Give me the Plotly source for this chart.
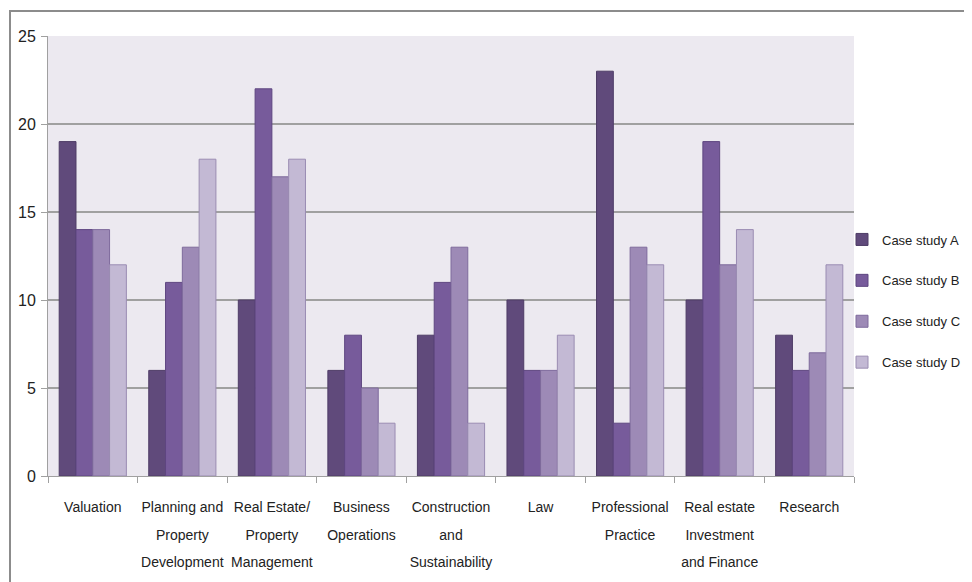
import plotly.graph_objects as go

category_lines = [["Valuation"], ["Planning and", "Property", "Development"],
                  ["Real Estate/", "Property", "Management"], ["Business", "Operations"],
                  ["Construction", "and", "Sustainability"], ["Law"],
                  ["Professional", "Practice"], ["Real estate", "Investment", "and Finance"],
                  ["Research"]]
series_names = ["Case study A", "Case study B", "Case study C", "Case study D"]
case_a = [19, 6, 10, 6, 8, 10, 23, 10, 8]
case_b = [14, 11, 22, 8, 11, 6, 3, 19, 6]
case_c = [14, 13, 17, 5, 13, 6, 13, 12, 7]
case_d = [12, 18, 18, 3, 3, 8, 12, 14, 12]
y_ticks = [0, 5, 10, 15, 20, 25]

colors = ["#604A7B", "#775B9B", "#9D8AB6", "#C3B9D4"]
edges = ["#4E3C66", "#5E4680", "#7E6A9C", "#9A8CB2"]

FONT = "Liberation Sans, Arial, sans-serif"

categories = [" ".join(lines) for lines in category_lines]
tick_text = ["<br>".join('<span style="font-size:14px">%s</span>' % s for s in lines)
             for lines in category_lines]

fig = go.Figure()
for name, vals, c, e in zip(series_names, [case_a, case_b, case_c, case_d], colors, edges):
    fig.add_trace(go.Bar(x=categories, y=vals, name=name, legendgroup=name,
                         marker=dict(color=c, line=dict(color=e, width=1))))

# page body has an 8px margin, so the figure is 8px smaller and offset
OFF = 8
W, H = 972 - OFF, 582 - OFF
L, T = 48 - OFF, 36 - OFF
R = W - (854 - OFF)
B = H - (476 - OFF)
pw, ph = W - L - R, H - T - B

fig.update_layout(
    width=W, height=H,
    margin=dict(l=L, r=R, t=T, b=B, autoexpand=False),
    barmode="group", bargap=0.25, bargroupgap=0,
    plot_bgcolor="#ECE9F0", paper_bgcolor="white",
    font=dict(family=FONT, size=14, color="#222222"),
    legend=dict(x=(842 - 48) / pw, y=(476 - 301) / ph, xanchor="left", yanchor="middle",
                font=dict(family=FONT, size=13, color="#222222"),
                itemwidth=30, tracegroupgap=21, traceorder="grouped",
                bgcolor="rgba(0,0,0,0)"),
    xaxis=dict(showline=True, linecolor="#A0A0A0", linewidth=1, ticks="outside",
               tickson="boundaries", ticklen=6, tickcolor="#A0A0A0", tickangle=0,
               tickvals=categories, ticktext=tick_text, ticklabelstandoff=10,
               showgrid=False, tickfont=dict(family=FONT, size=21, color="#222222")),
    yaxis=dict(range=[0, 25], tickvals=y_ticks, showgrid=True, gridcolor="#A0A0A0",
               gridwidth=1.5, showline=True, linecolor="#A0A0A0", ticks="outside",
               ticklen=6, tickcolor="#A0A0A0", zeroline=False, ticklabelstandoff=2,
               tickfont=dict(family=FONT, size=16, color="#222222")),
    showlegend=True,
)

fig.add_shape(type="rect", xref="paper", yref="paper",
              x0=(10 - 48) / pw, x1=(1000 - 48) / pw,
              y0=-0.5, y1=(476 - 11) / ph,
              line=dict(color="#8C8C8C", width=2), fillcolor="rgba(0,0,0,0)", layer="below")

fig.write_html("out.html")
